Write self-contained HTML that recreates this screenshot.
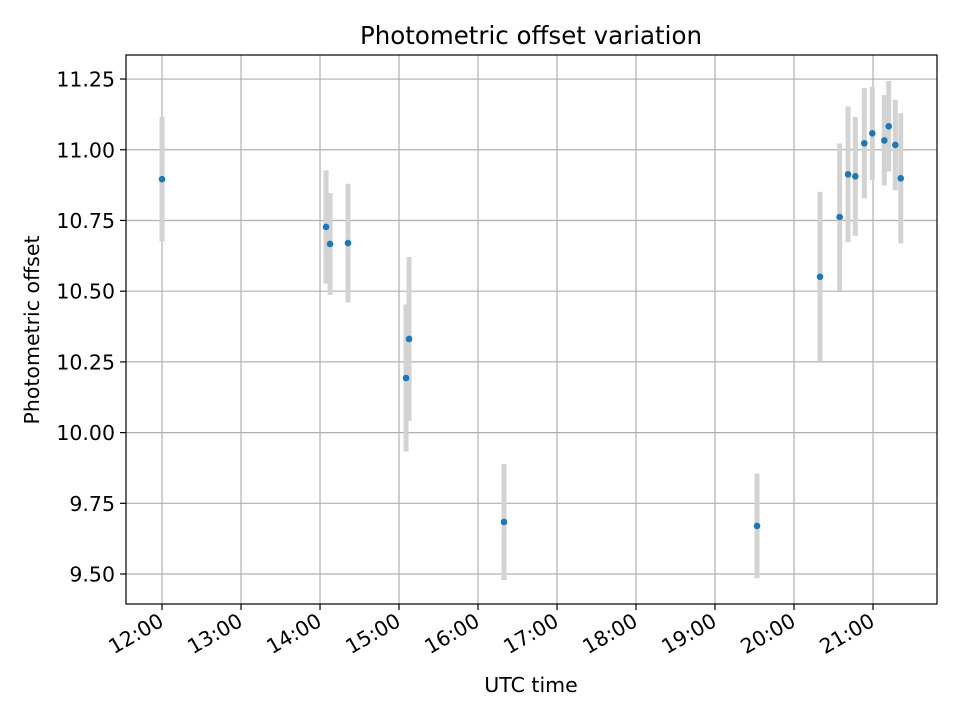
<!DOCTYPE html>
<html><head><meta charset="utf-8"><style>
body{margin:0;background:#fff;}
svg{font-family:"DejaVu Sans","Liberation Sans",sans-serif;}
</style></head><body>
<svg id="chart" width="960" height="720" xmlns="http://www.w3.org/2000/svg">
<rect width="960" height="720" fill="#fff"/>
<g id="grid"></g><g id="bars"></g><g id="pts"></g><g id="axes"></g>
<text x="531" y="44" font-size="24.5" text-anchor="middle">Photometric offset variation</text>
<text x="531" y="692" font-size="20.5" text-anchor="middle">UTC time</text>
<text transform="translate(39,330) rotate(-90)" font-size="20.5" text-anchor="middle">Photometric offset</text>
</svg>
<script>
const times=[12.0,14.076,14.127,14.354,15.089,15.127,16.329,19.532,20.329,20.578,20.684,20.776,20.890,20.991,21.143,21.199,21.282,21.351];
const offsets=[10.896,10.727,10.667,10.670,10.193,10.331,9.684,9.670,10.551,10.762,10.913,10.906,11.023,11.058,11.033,11.083,11.017,10.899];
const errors=[0.22,0.20,0.18,0.21,0.26,0.29,0.205,0.185,0.30,0.26,0.24,0.21,0.195,0.165,0.16,0.16,0.16,0.23];
const xTickHours=[12,13,14,15,16,17,18,19,20,21];
const xTickLabels=["12:00","13:00","14:00","15:00","16:00","17:00","18:00","19:00","20:00","21:00"];
const yTicks=[9.5,9.75,10.0,10.25,10.5,10.75,11.0,11.25];
const yTickLabels=["9.50","9.75","10.00","10.25","10.50","10.75","11.00","11.25"];
const L=126,R=937,T=55,B=604,x0=11.544,x1=21.810,y0=9.394,y1=11.335;
const X=v=>L+(v-x0)/(x1-x0)*(R-L);
const Y=v=>B-(v-y0)/(y1-y0)*(B-T);
const NS="http://www.w3.org/2000/svg";
function mk(p,tag,a){const e=document.createElementNS(NS,tag);for(const k in a)e.setAttribute(k,a[k]);document.getElementById(p).appendChild(e);return e;}
xTickHours.forEach((h,i)=>{const x=X(h);
 let g=mk('grid','line',{x1:x,x2:x,y1:T,y2:B,stroke:'#b0b0b0','stroke-width':1.2});
 
 
 mk('axes','line',{x1:x,x2:x,y1:B,y2:B+6,stroke:'#000','stroke-width':1.2});
 let t=mk('axes','text',{transform:`translate(${x+3},${B+21}) rotate(-30)`,'font-size':20.5,'text-anchor':'end'});
 t.textContent=xTickLabels[i];
 
 
});
yTicks.forEach((v,i)=>{const y=Y(v);
 let g=mk('grid','line',{x1:L,x2:R,y1:y,y2:y,stroke:'#b0b0b0','stroke-width':1.2});
 
 
 mk('axes','line',{x1:L-6,x2:L,y1:y,y2:y,stroke:'#000','stroke-width':1.2});
 let t=mk('axes','text',{x:L-11,y:y+7.5,'font-size':20.5,'text-anchor':'end'});
 t.textContent=yTickLabels[i];
 
 
});
let f=mk('axes','rect',{x:L,y:T,width:R-L,height:B-T,fill:'none',stroke:'#000','stroke-width':1.2});


times.forEach((t,i)=>{const x=X(t);
 let b=mk('bars','line',{x1:x,x2:x,y1:Math.max(T,Y(offsets[i]+errors[i])),y2:Y(offsets[i]-errors[i]),stroke:'#d3d3d3','stroke-width':5});
 
 
 let c=mk('pts','circle',{cx:x,cy:Y(offsets[i]),r:3.3,fill:'#1f77b4'});
 
 
});
</script>
</body></html>
